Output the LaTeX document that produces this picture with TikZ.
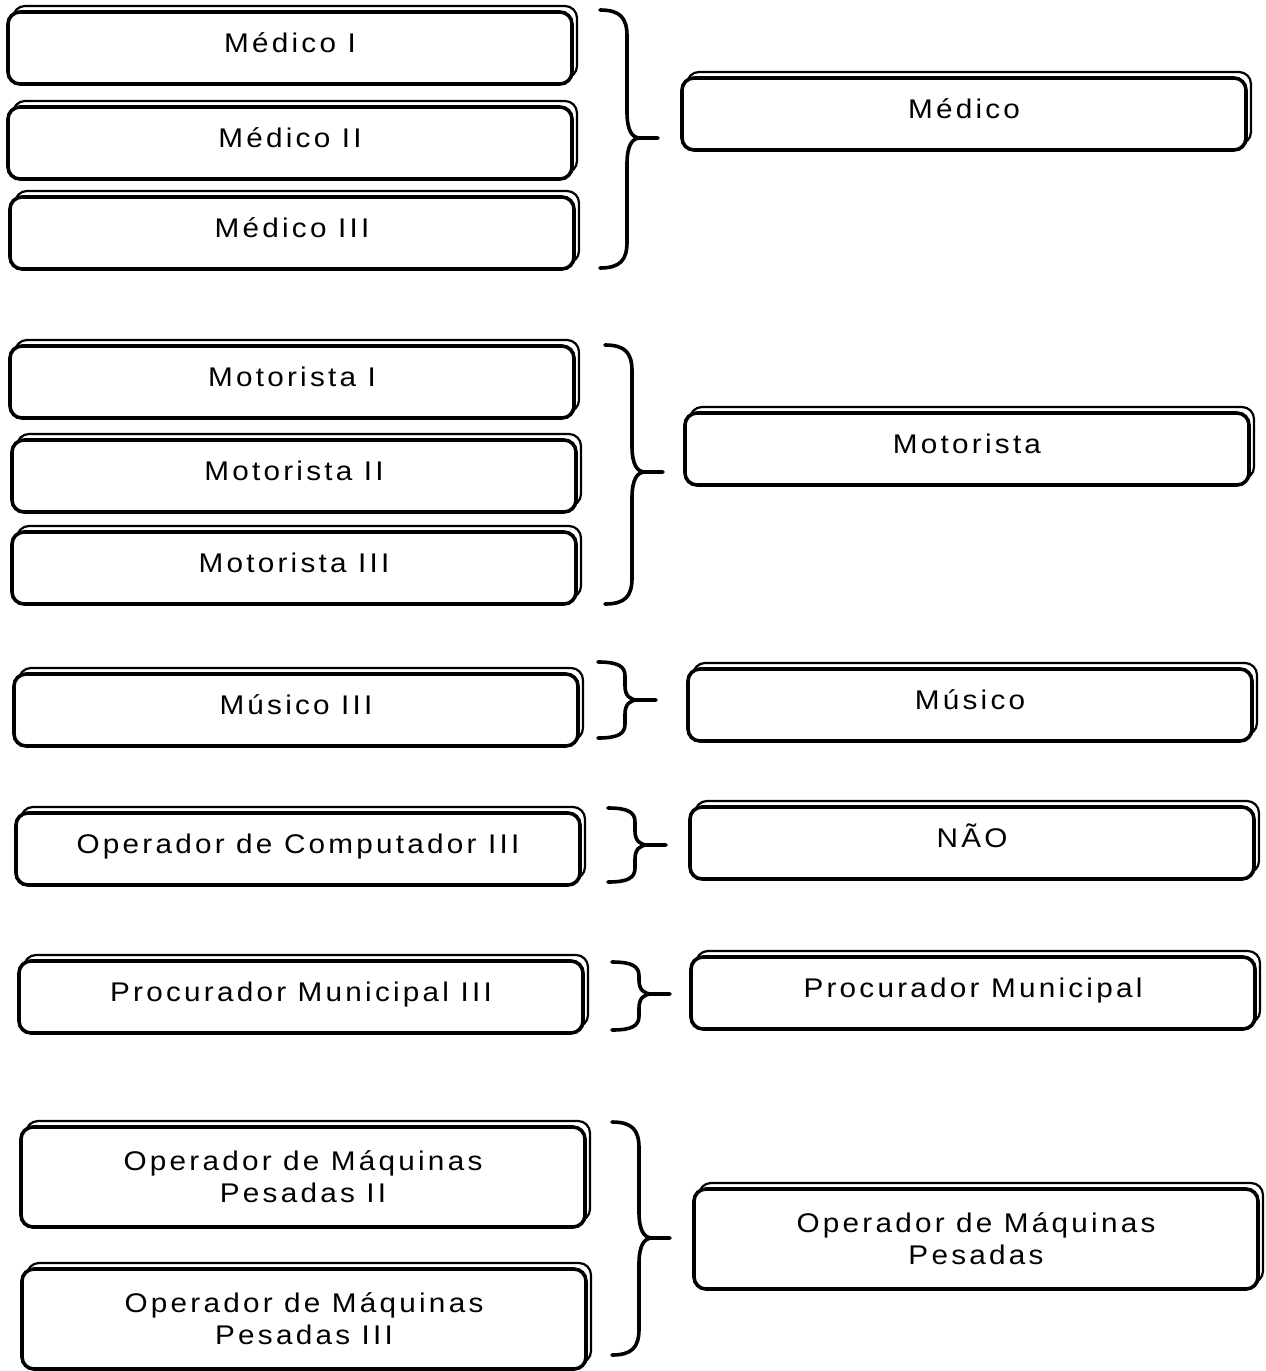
\documentclass[tikz,border=0pt]{standalone}
\usepackage{fontspec}
\setmainfont{Liberation Sans}[LetterSpace=12,FakeStretch=1.1]
\usetikzlibrary{shadows}
\tikzset{
  cargo/.style={draw, line width=1.8pt, rounded corners=6pt, fill=white,
    minimum width=282pt, minimum height=36pt, align=center,
    text height=0.8em, text depth=0.34em,
    font=\fontsize{13.5}{16}\selectfont,
    drop shadow={shadow xshift=2.5pt, shadow yshift=3pt, fill=white, draw=black, line width=1.1pt, opacity=1}},
  alto/.style={minimum height=50pt, text height=, text depth=},
  chave/.style={line width=1.8pt, line cap=round, line join=round}
}
% x, topo, base, meio, curva
\newcommand{\chave}[5]{%
  \draw[chave] (#1,#2) .. controls (#1+20,#2) and (#1+27,#2+#5*0.3) .. (#1+27,#2+#5)
    -- (#1+27,#4-#5) .. controls (#1+27,#4-#5*0.3) and (#1+32,#4) .. (#1+40,#4) -- (#1+58,#4)
    (#1+40,#4) .. controls (#1+32,#4) and (#1+27,#4+#5*0.3) .. (#1+27,#4+#5)
    -- (#1+27,#3-#5) .. controls (#1+27,#3-#5*0.3) and (#1+20,#3) .. (#1,#3);}

\begin{document}
\begin{tikzpicture}[x=0.5pt,y=-0.5pt]
\useasboundingbox (0,0) rectangle (1265,1371);

\node[cargo] (med1) at (290,48) {Médico I};
\node[cargo] (med2) at (290,143) {Médico II};
\node[cargo] (med3) at (292,233) {Médico III};
\node[cargo] (med) at (964,114) {Médico};
\chave{600}{10}{268}{138}{26}

\node[cargo] (mot1) at (292,382) {Motorista I};
\node[cargo] (mot2) at (294,476) {Motorista II};
\node[cargo] (mot3) at (294,568) {Motorista III};
\node[cargo] (mot) at (967,449) {Motorista};
\chave{605}{345}{604}{472}{26}

\node[cargo] (mus3) at (296,710) {Músico III};
\node[cargo] (mus) at (970,705) {Músico};
\chave{598}{662}{738}{700}{14}

\node[cargo] (opc3) at (298,849) {Operador de Computador III};
\node[cargo] (nao) at (972,843) {NÃO};
\chave{608}{808}{882}{845}{14}

\node[cargo] (proc3) at (301,997) {Procurador Municipal III};
\node[cargo] (proc) at (973,993) {Procurador Municipal};
\chave{612}{962}{1030}{994}{14}

\node[cargo,alto] (omp2) at (303,1177) {Operador de Máquinas\\Pesadas II};
\node[cargo,alto] (omp3) at (304,1319) {Operador de Máquinas\\Pesadas III};
\node[cargo,alto] (omp) at (976,1239) {Operador de Máquinas\\Pesadas};
\chave{612}{1122}{1355}{1238}{26}
\end{tikzpicture}
\end{document}
